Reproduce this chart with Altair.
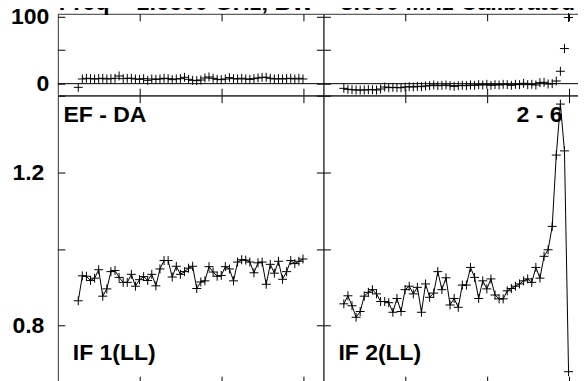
import altair as alt
import pandas as pd

# ---------------- data ----------------
channels = list(range(5, 61))

phase_if1 = [-5.5, 7, 8, 7.5, 7, 7.5, 8, 7, 7.5, 8,
             11.5, 7.5, 8, 8, 7, 6.5, 7.5, 5, 7, 6.5,
             7, 8, 7.5, 6, 7, 7.5, 9.5, 6.5, 5, 4.5,
             5.5, 8.5, 10, 8, 6.5, 6, 7, 9, 7.5, 7,
             8, 7, 6.5, 7.5, 8.5, 9.5, 9.5, 8, 7, 7.5,
             7, 7.5, 8, 7, 8, 7]

phase_if2 = [-7, -8.5, -9, -9.5, -9.5, -9.5, -9, -9, -9.5, -8,
             -5, -6, -5.5, -6, -6, -5, -4.5, -5, -4, -4.5,
             -3.5, -3, -2, -3, -2.5, -2, -3, -4, -3, -2.5,
             -3, -2, -2.5, -1.5, -2, -1, -2.5, -1.5, -2, -1,
             -1.5, -2.5, -1, -1.5, 0.5, -1.5, -1, -2, 1.5, 2,
             -0.5, 0, 4, 18.5, 52.5, 99]

amp_if1 = [0.865, 0.930, 0.929, 0.918, 0.924, 0.946, 0.877, 0.896, 0.941, 0.944,
           0.926, 0.913, 0.913, 0.934, 0.903, 0.920, 0.928, 0.918, 0.934, 0.904,
           0.948, 0.970, 0.970, 0.927, 0.955, 0.934, 0.941, 0.950, 0.955, 0.897,
           0.914, 0.917, 0.954, 0.940, 0.929, 0.931, 0.954, 0.948, 0.917, 0.966,
           0.972, 0.971, 0.966, 0.938, 0.964, 0.966, 0.908, 0.960, 0.937, 0.968,
           0.921, 0.941, 0.970, 0.962, 0.968, 0.974]

amp_if2 = [0.857, 0.878, 0.852, 0.822, 0.837, 0.877, 0.887, 0.894, 0.883, 0.863,
           0.863, 0.860, 0.835, 0.871, 0.837, 0.894, 0.903, 0.883, 0.900, 0.835,
           0.909, 0.874, 0.885, 0.941, 0.894, 0.925, 0.854, 0.871, 0.848, 0.906,
           0.906, 0.952, 0.926, 0.871, 0.917, 0.896, 0.922, 0.880, 0.870, 0.870,
           0.891, 0.897, 0.903, 0.909, 0.917, 0.922, 0.913, 0.952, 0.924, 0.981,
           0.998, 1.059, 1.245, 1.378, 1.256, 0.680]

title_text = "Freq = 1.6690 GHz, BW = 8.000 MHz Calibrated"
baseline_labels = ["EF - DA", "2 - 6"]
if_labels = ["IF 1(LL)", "IF 2(LL)"]

x_ticks = [20, 40, 60]
phase_ticks = [0, 50, 100]
amp_ticks = [0.8, 1.0, 1.2, 1.4]

for s in (phase_if1, phase_if2, amp_if1, amp_if2):
    assert len(s) == len(channels)

# ---------------- styling ----------------
FONT = "Liberation Sans"
W = 266
H_TOP = 81.5
H_BOT = 288
X_DOMAIN = [0, 65]
PH_DOMAIN = [-17.2, 104.5]
AMP_DOMAIN = [0.65, 1.4]
CROSS = "M-1,0L1,0M0,-1L0,1"
TICK = 7


def xaxis(orient):
    return alt.Axis(orient=orient, values=x_ticks, labels=False, tickSize=TICK,
                    offset=-TICK, domain=False, grid=False, title=None)


def yaxis(orient, values, labels, expr=None, pad=7):
    kw = dict(orient=orient, values=values, labels=labels, tickSize=TICK,
              offset=-TICK, domain=False, grid=False, title=None, labelPadding=pad)
    if expr:
        kw["labelExpr"] = expr
    return alt.Axis(**kw)


def text_layer(txt, x, y, align):
    return alt.Chart(pd.DataFrame({"t": [txt]})).mark_text(
        align=align, baseline="alphabetic", font=FONT, fontSize=23,
        fontWeight="bold", color="black"
    ).encode(text="t:N", x=alt.value(x), y=alt.value(y))


def top_panel(phase, left_labels):
    df = pd.DataFrame({"ch": channels, "phase": phase})
    xs = alt.Scale(domain=X_DOMAIN, nice=False, zero=False)
    ys = alt.Scale(domain=PH_DOMAIN, nice=False, zero=False)
    expr = "datum.value == 0 || datum.value == 100 ? datum.label : ''"
    pts = alt.Chart(df).mark_point(
        shape=CROSS, size=81, filled=False, color="black", strokeWidth=1, opacity=1
    ).encode(
        x=alt.X("ch:Q", scale=xs, axis=xaxis("bottom")),
        y=alt.Y("phase:Q", scale=ys,
                axis=yaxis("left", phase_ticks, left_labels,
                           expr if left_labels else None, pad=9)),
    )
    ghost = alt.Chart(df).mark_point(opacity=0).encode(
        x=alt.X("ch:Q", scale=xs, axis=xaxis("top")),
        y=alt.Y("phase:Q", scale=ys, axis=yaxis("right", phase_ticks, False)),
    )
    zero = alt.Chart(pd.DataFrame({"phase": [0]})).mark_rule(
        color="black", strokeWidth=1
    ).encode(y=alt.Y("phase:Q", scale=ys, axis=None))
    return alt.layer(pts, ghost, zero).resolve_axis(
        x="independent", y="independent"
    ).properties(width=W, height=H_TOP)


def bottom_panel(amp, left_labels, top_label, top_x, top_align, if_label):
    df = pd.DataFrame({"ch": channels, "amp": amp})
    xs = alt.Scale(domain=X_DOMAIN, nice=False, zero=False)
    ys = alt.Scale(domain=AMP_DOMAIN, nice=False, zero=False)
    expr = "datum.value == 0.8 || datum.value == 1.2 ? datum.label : ''"
    line = alt.Chart(df).mark_line(color="black", strokeWidth=1).encode(
        x=alt.X("ch:Q", scale=xs, axis=xaxis("bottom")),
        y=alt.Y("amp:Q", scale=ys,
                axis=yaxis("left", amp_ticks, left_labels,
                           expr if left_labels else None, pad=14)),
    )
    pts = alt.Chart(df).mark_point(
        shape=CROSS, size=81, filled=False, color="black", strokeWidth=1, opacity=1
    ).encode(
        x=alt.X("ch:Q", scale=xs, axis=xaxis("top")),
        y=alt.Y("amp:Q", scale=ys, axis=yaxis("right", amp_ticks, False)),
    )
    t1 = text_layer(top_label, top_x, 26.7, top_align)
    t2 = text_layer(if_label, 15, 265, "left")
    return alt.layer(line, pts, t1, t2).resolve_axis(
        x="independent", y="independent"
    ).properties(width=W, height=H_BOT)


tl = top_panel(phase_if1, True)
tr = top_panel(phase_if2, False)
bl = bottom_panel(amp_if1, True, baseline_labels[0], 5.7, "left", if_labels[0])
br = bottom_panel(amp_if2, False, baseline_labels[1], 239.4, "right", if_labels[1])

chart = alt.concat(
    tl, tr, bl, br, columns=2, spacing=0, bounds="flush",
    title=alt.TitleParams(
        text=title_text, anchor="start", frame="group", font=FONT, fontSize=23.5,
        fontWeight="bold", color="black", offset=-28.5, baseline="alphabetic", dx=1
    ),
    padding={"left": 1.9, "top": -17.5, "right": -12, "bottom": 0},
).configure_view(
    stroke="#333333", strokeWidth=1
).configure_axis(
    tickColor="black", tickWidth=1, labelFont=FONT, labelFontSize=23,
    labelFontWeight="bold", labelColor="black"
)

chart.save("out.html", embed_options={"renderer": "svg", "actions": False})
